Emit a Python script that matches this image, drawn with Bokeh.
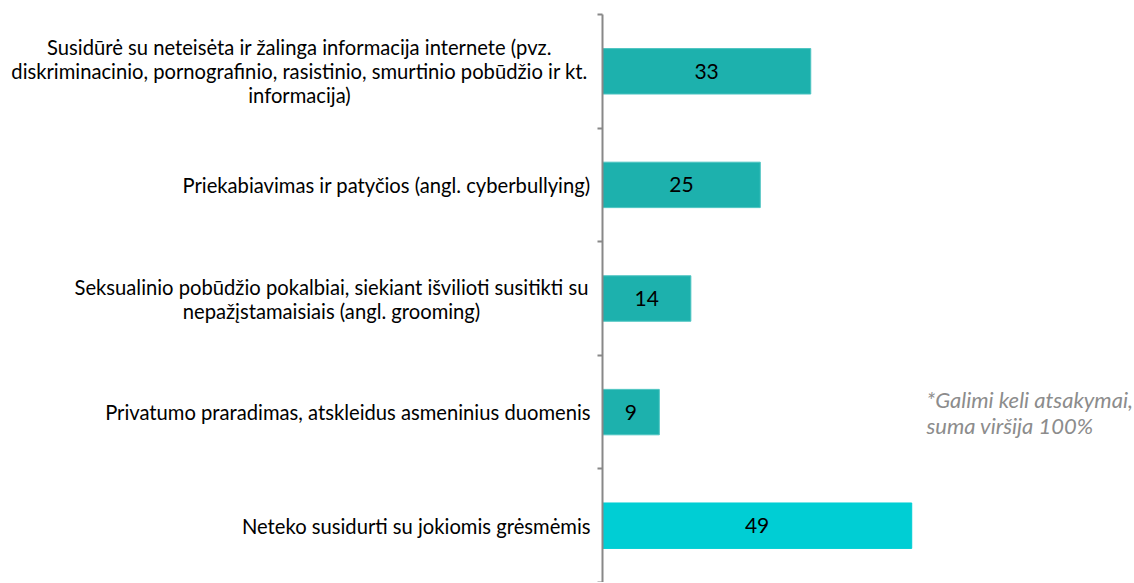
from bokeh.plotting import figure
from bokeh.layouts import row
from bokeh.models import (ColumnDataSource, Range1d, LinearAxis, FixedTicker, Label, LabelSet)
from bokeh.core.properties import value
from bokeh.embed import file_html
from bokeh.resources import INLINE

categories = [
    "Susidūrė su neteisėta ir žalinga informacija internete (pvz.\ndiskriminacinio, pornografinio, rasistinio, smurtinio pobūdžio ir kt.\ninformacija)",
    "Priekabiavimas ir patyčios (angl. cyberbullying)",
    "Seksualinio pobūdžio pokalbiai, siekiant išvilioti susitikti su\nnepažįstamaisiais (angl. grooming)",
    "Privatumo praradimas, atskleidus asmeninius duomenis",
    "Neteko susidurti su jokiomis grėsmėmis",
]
values = [33, 25, 14, 9, 49]
colors = ["#1DB1AD", "#1DB1AD", "#1DB1AD", "#1DB1AD", "#00CED4"]
borders = ["#4CC4C1", "#4CC4C1", "#4CC4C1", "#4CC4C1", "#00CED4"]
note = "*Galimi keli atsakymai,\nsuma viršija 100%"

# label anchor (px within the label panel) and alignment
label_x = [299, 590, 331, 590, 590]
label_align = ["center", "right", "center", "right", "right"]

FONT = "Lato"
n = len(categories)
H = 582
LEFT_W = 596
ypos = [n - i - 0.5 for i in range(n)]  # category centres, first at top

src = ColumnDataSource(dict(y=ypos, val=values, col=colors, bcol=borders,
                            half=[v / 2 for v in values], lab=[str(v) for v in values],
                            cat=categories, lx=label_x, la=label_align))

# ---- left panel: category labels
pl = figure(width=LEFT_W, height=H, output_backend="svg", toolbar_location=None,
            y_range=Range1d(0, n), x_range=Range1d(0, LEFT_W),
            y_axis_location=None, x_axis_location=None,
            min_border_top=14, min_border_bottom=0, min_border_right=0, min_border_left=0)
pl.outline_line_color = None
pl.xgrid.visible = False
pl.ygrid.visible = False
pl.text(x="lx", y="y", text="cat", source=src, text_align="la", text_baseline="middle",
        text_font=value(FONT), text_font_size="20.2px", text_color="#000000",
        text_line_height=1.0)

# ---- right panel: bars
p = figure(width=1134 - LEFT_W, height=H, output_backend="svg", toolbar_location=None,
           y_range=pl.y_range, x_range=Range1d(0, 84.3),
           y_axis_location=None, x_axis_location=None,
           min_border_top=14, min_border_bottom=0, min_border_right=0, min_border_left=6)
p.outline_line_color = None
p.xgrid.visible = False
p.ygrid.visible = False

tick_axis = LinearAxis(ticker=FixedTicker(ticks=list(range(n + 1))),
                       major_label_overrides={i: "" for i in range(n + 1)},
                       major_label_standoff=0,
                       axis_line_color="#888888", axis_line_width=2,
                       major_tick_line_color="#888888", major_tick_line_width=2,
                       major_tick_in=0, major_tick_out=5,
                       minor_tick_line_color=None)
p.add_layout(tick_axis, "left")

p.hbar(y="y", right="val", left=0, height=0.4, source=src,
       fill_color="col", line_color="bcol", line_width=1)

p.add_layout(LabelSet(x="half", y="y", text="lab", source=src, text_align="center",
                      text_baseline="middle", text_font=value(FONT), text_font_size="21px",
                      text_color="#000000"))

p.add_layout(Label(x=324, y=170, x_units="screen", y_units="screen", text=note,
                   text_font=FONT, text_font_style="italic", text_font_size="22px",
                   text_color="#8C8C8C", text_align="left", text_baseline="middle",
                   text_line_height=0.98))

layout = row(pl, p, spacing=0)
open("out.html", "w").write(file_html(layout, INLINE))
